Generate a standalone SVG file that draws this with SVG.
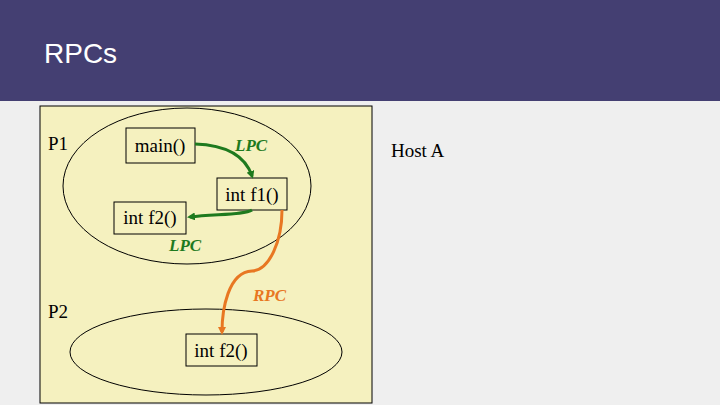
<svg xmlns="http://www.w3.org/2000/svg" width="720" height="405" viewBox="0 0 720 405">
<style>
.t{font-family:"Liberation Serif",serif;font-size:19px;fill:#000}
.box{fill:none;stroke:#000;stroke-width:1}
.ell{fill:none;stroke:#000;stroke-width:1}
.lbl{font-family:"Liberation Serif",serif;font-size:17px;font-style:italic;font-weight:bold}
</style>
<defs>
<marker id="ag" markerWidth="8" markerHeight="8" refX="5" refY="4" orient="auto" markerUnits="userSpaceOnUse" viewBox="0 0 8 8"><path d="M0,0 L8,4 L0,8 z" fill="#1e7a1e"/></marker>
<marker id="ao" markerWidth="8" markerHeight="8" refX="5" refY="4" orient="auto" markerUnits="userSpaceOnUse" viewBox="0 0 8 8"><path d="M0,0 L8,4 L0,8 z" fill="#e87722"/></marker>
</defs>
<rect width="720" height="405" fill="#efefef"/>
<rect width="720" height="101" fill="#443f72"/>
<text x="44" y="63" font-family="Liberation Sans,sans-serif" font-size="28" fill="#fff">RPCs</text>
<rect x="40" y="106" width="332" height="297" fill="#f5f1bf" stroke="#000" stroke-width="1"/>
<text class="t" x="48" y="150">P1</text>
<text class="t" x="48" y="318">P2</text>
<text class="t" x="391" y="157">Host A</text>
<ellipse class="ell" cx="187" cy="186" rx="124" ry="78"/>
<ellipse class="ell" cx="206" cy="352" rx="136" ry="43"/>
<g id="main"><rect class="box" x="126" y="128" width="69" height="35"/><text class="t" x="160" y="152" text-anchor="middle">main()</text></g>
<g id="f1"><rect class="box" x="217" y="178" width="70" height="32"/><text class="t" x="252" y="201" text-anchor="middle">int f1()</text></g>
<g id="f2a"><rect class="box" x="114" y="202" width="72" height="32"/><text class="t" x="150" y="224" text-anchor="middle">int f2()</text></g>
<g id="f2b"><rect class="box" x="186" y="334" width="71" height="32"/><text class="t" x="221" y="357" text-anchor="middle">int f2()</text></g>
<g id="connectors">
<path d="M195,144 C225,145 245,155 252,176" fill="none" stroke="#1e7a1e" stroke-width="3" marker-end="url(#ag)"/>
<path d="M252,210 C245,215 215,214 190,217" fill="none" stroke="#1e7a1e" stroke-width="3" marker-end="url(#ag)"/>
<path d="M282,210 C282,240 270,270 252,271 C228,272 222,310 222,332" fill="none" stroke="#e87722" stroke-width="3" marker-end="url(#ao)"/>
</g>
<text class="lbl" x="235" y="151" fill="#1e7a1e">LPC</text>
<text class="lbl" x="169" y="251" fill="#1e7a1e">LPC</text>
<text class="lbl" x="253" y="301" fill="#e87722">RPC</text>
</svg>
